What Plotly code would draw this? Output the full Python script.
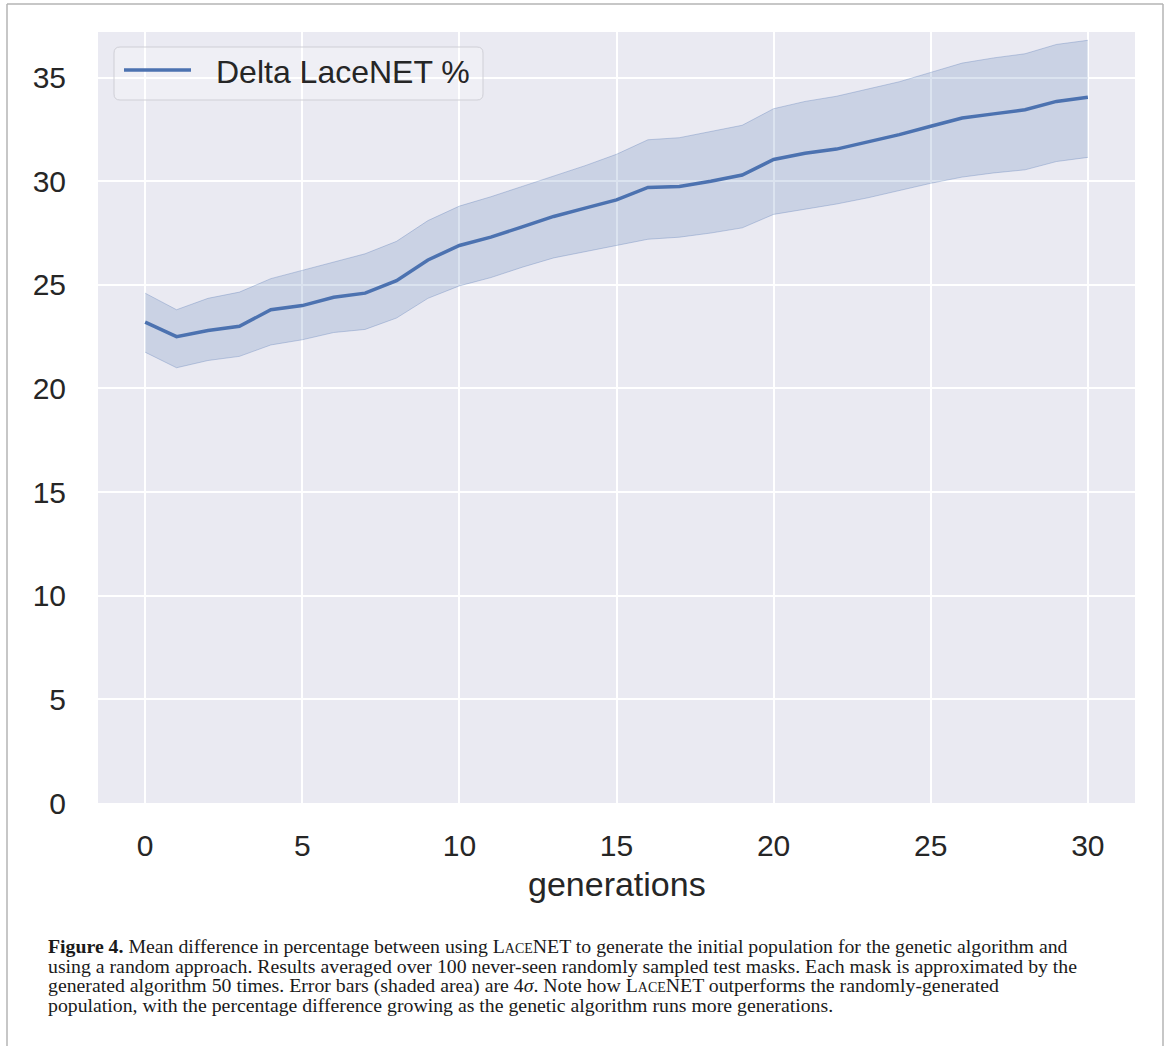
import plotly.graph_objects as go

# === Données ===
generations = list(range(31))
mean_delta = [23.2, 22.5, 22.8, 23.0, 23.8, 24.0, 24.4, 24.6, 25.2, 26.2, 26.9,
              27.3, 27.8, 28.3, 28.7, 29.1, 29.7, 29.75, 30.0, 30.3, 31.05,
              31.35, 31.55, 31.9, 32.25, 32.65, 33.05, 33.25, 33.45, 33.85, 34.05]
upper_delta = [24.6, 23.8, 24.35, 24.65, 25.3, 25.7, 26.1, 26.5, 27.1, 28.1, 28.8,
               29.25, 29.75, 30.25, 30.75, 31.3, 32.0, 32.1, 32.4, 32.7, 33.5,
               33.85, 34.1, 34.45, 34.8, 35.25, 35.7, 35.95, 36.15, 36.6, 36.8]
lower_delta = [21.75, 21.0, 21.35, 21.55, 22.1, 22.35, 22.7, 22.85, 23.4, 24.35, 24.95,
               25.35, 25.85, 26.3, 26.6, 26.9, 27.2, 27.3, 27.5, 27.75, 28.4,
               28.65, 28.9, 29.2, 29.55, 29.9, 30.2, 30.4, 30.55, 30.95, 31.15]
x_ticks = [0, 5, 10, 15, 20, 25, 30]
y_ticks = [0, 5, 10, 15, 20, 25, 30, 35]
legend_label = "Delta LaceNET %"
x_title = "generations"
SC = '<span style="font-size:14px">ACE</span>'
caption_lines = [
    f"<b>Figure 4.</b> Mean difference in percentage between using L{SC}NET "
    "to generate the initial population for the genetic algorithm and",
    "using a random approach. Results averaged over 100 never-seen randomly sampled test masks. "
    "Each mask is approximated by the",
    "generated algorithm 50 times. Error bars (shaded area) are 4<i>σ</i>. Note how "
    f"L{SC}NET outperforms the randomly-generated",
    "population, with the percentage difference growing as the genetic algorithm runs more generations.",
]

# === Géométrie (pixels) ===
W, H = 1167, 1046
L, R, T, B = 98, 1135, 32, 803
PW, PH = R - L, B - T


def px(x):
    return (x - L) / PW


def py(y):
    return (B - y) / PH


BLUE = "#4C72B0"
TXT = "#262626"
SANS = "Liberation Sans, Arial"

fig = go.Figure()

# Bande (4 sigma)
fig.add_trace(go.Scatter(
    x=generations, y=upper_delta, mode="lines",
    line=dict(color="rgba(76,114,176,0.3)", width=1),
    showlegend=False, hoverinfo="skip"
))
fig.add_trace(go.Scatter(
    x=generations, y=lower_delta, mode="lines",
    line=dict(color="rgba(76,114,176,0.3)", width=1),
    fill="tonexty", fillcolor="rgba(76,114,176,0.2)",
    showlegend=False, hoverinfo="skip"
))
# Moyenne
fig.add_trace(go.Scatter(
    x=generations, y=mean_delta, mode="lines",
    line=dict(color=BLUE, width=3.5),
    name=legend_label, showlegend=False
))

# Légende dessinée à la main (style matplotlib)
lx0, lx1, ly0, ly1, r = 114, 483, 47, 100, 6
rx, ry = r / PW, r / PH
path = (f"M {px(lx0)+rx},{py(ly0)} L {px(lx1)-rx},{py(ly0)} "
        f"Q {px(lx1)},{py(ly0)} {px(lx1)},{py(ly0)-ry} "
        f"L {px(lx1)},{py(ly1)+ry} Q {px(lx1)},{py(ly1)} {px(lx1)-rx},{py(ly1)} "
        f"L {px(lx0)+rx},{py(ly1)} Q {px(lx0)},{py(ly1)} {px(lx0)},{py(ly1)+ry} "
        f"L {px(lx0)},{py(ly0)-ry} Q {px(lx0)},{py(ly0)} {px(lx0)+rx},{py(ly0)} Z")

shapes = [
    dict(type="path", xref="paper", yref="paper", path=path,
         fillcolor="rgba(255,255,255,0.25)", line=dict(color="#CFCFD6", width=1)),
    dict(type="line", xref="paper", yref="paper",
         x0=px(124), x1=px(191), y0=py(70), y1=py(70),
         line=dict(color=BLUE, width=3.5)),
    # cadre gris de la page
    dict(type="line", xref="paper", yref="paper", x0=px(7), x1=px(7), y0=py(4), y1=py(1046),
         line=dict(color="#B4B4B4", width=1.5)),
    dict(type="line", xref="paper", yref="paper", x0=px(7), x1=px(1163), y0=py(4), y1=py(4),
         line=dict(color="#B4B4B4", width=1.5)),
    dict(type="line", xref="paper", yref="paper", x0=px(1163), x1=px(1163), y0=py(4), y1=py(1046),
         line=dict(color="#B4B4B4", width=1.5)),
]

annotations = [
    dict(text=legend_label, xref="paper", yref="paper", x=px(214), y=py(72),
         xanchor="left", yanchor="middle", showarrow=False,
         font=dict(family=SANS, size=32, color=TXT)),
    dict(text=x_title, xref="paper", yref="paper", x=0.5, y=py(884),
         xanchor="center", yanchor="middle", showarrow=False,
         font=dict(family=SANS, size=34, color=TXT)),
]
for i, line in enumerate(caption_lines):
    annotations.append(dict(
        text=line, xref="paper", yref="paper", x=px(46), y=py(946 + i * 19.6),
        xanchor="left", yanchor="middle", align="left", showarrow=False,
        font=dict(family="Liberation Serif, Times New Roman", size=19.8, color="#1a1a1a")
    ))

fig.update_layout(
    width=W, height=H,
    margin=dict(l=L, r=W - R, t=T, b=H - B),
    paper_bgcolor="white",
    plot_bgcolor="#EAEAF2",
    showlegend=False,
    xaxis=dict(range=[-1.5, 31.5], tickvals=x_ticks, showgrid=True,
               gridcolor="white", gridwidth=2, zeroline=False, showline=False,
               ticks="", ticklabelstandoff=22,
               tickfont=dict(family=SANS, size=30, color=TXT)),
    yaxis=dict(range=[0, 37.2], tickvals=y_ticks, showgrid=True,
               gridcolor="white", gridwidth=2, zeroline=False, showline=False,
               ticks="", ticklabelstandoff=31,
               tickfont=dict(family=SANS, size=30, color=TXT)),
    shapes=shapes,
    annotations=annotations,
)

fig.write_html("out.html", config=dict(displayModeBar=False),
               post_script="document.body.style.margin='0';")
